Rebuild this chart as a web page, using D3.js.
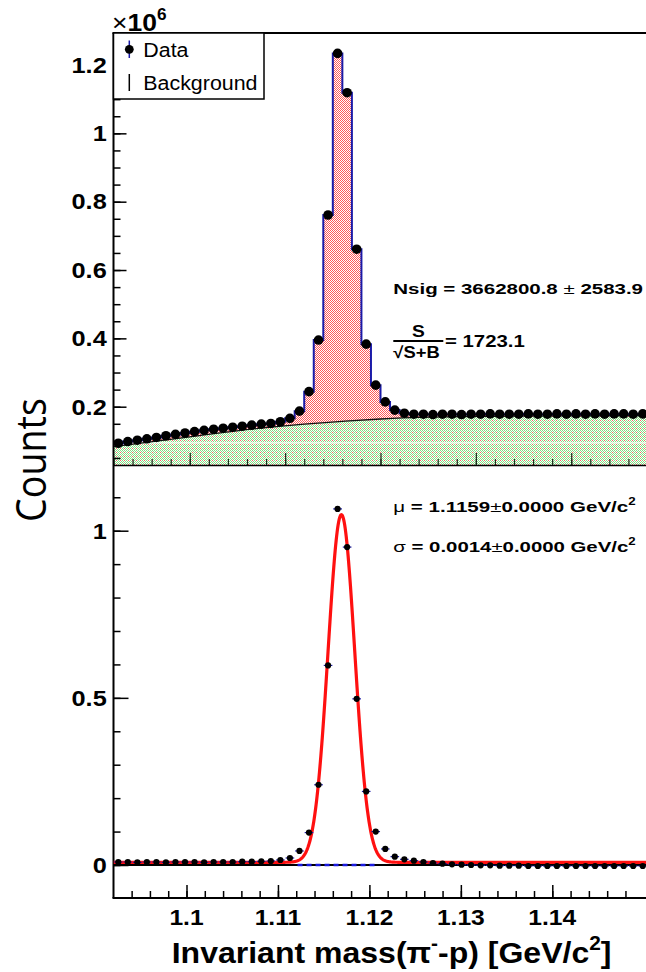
<!DOCTYPE html>
<html>
<head>
<meta charset="utf-8">
<script src="https://cdn.jsdelivr.net/npm/d3@7"></script>
<style>
  html, body { margin: 0; padding: 0; background: #fff; }
  svg { display: block; }
</style>
</head>
<body>
<svg id="chart" width="646" height="972"></svg>
<script>
// ---- histogram binning of the pi- p invariant mass ----
const massMin = 1.092, massMax = 1.148, binCount = 56;

// upper panel: entries per bin (x10^6)
const dataCounts = [
  0.093, 0.098, 0.102, 0.106, 0.110, 0.115, 0.119, 0.123, 0.127, 0.131,
  0.134, 0.137, 0.140, 0.143, 0.146, 0.149, 0.151, 0.156, 0.166, 0.187,
  0.244, 0.395, 0.761, 1.234, 1.119, 0.661, 0.383, 0.263, 0.214, 0.190,
  0.181, 0.178, 0.178, 0.177, 0.178, 0.178, 0.177, 0.178, 0.178, 0.179,
  0.178, 0.178, 0.178, 0.179, 0.178, 0.178, 0.179, 0.178, 0.179, 0.178,
  0.179, 0.178, 0.179, 0.179, 0.178, 0.179
];

// fitted background shape, sampled along the mass axis (x10^6)
const bgMass   = [1.092, 1.100, 1.108, 1.112, 1.116, 1.120, 1.124, 1.132, 1.140, 1.148];
const bgCounts = [0.083, 0.112, 0.139, 0.149, 0.157, 0.164, 0.169, 0.172, 0.173, 0.174];

// lower panel: background-subtracted entries per bin (x10^6)
const subCounts = [
  0.009, 0.009, 0.008, 0.009, 0.009, 0.008, 0.009, 0.009, 0.009, 0.008,
  0.009, 0.009, 0.009, 0.010, 0.010, 0.011, 0.012, 0.015, 0.021, 0.042,
  0.097, 0.240, 0.597, 1.065, 0.951, 0.497, 0.220, 0.100, 0.048, 0.025,
  0.017, 0.013, 0.009, 0.006, 0.004, 0.002, 0.001, 0.000, -0.001, -0.001,
  -0.002, -0.002, -0.002, -0.003, -0.003, -0.003, -0.003, -0.003, -0.003, -0.003,
  -0.003, -0.003, -0.003, -0.003, -0.003, -0.003
];

// Gaussian fit of the signal peak
const fitMu = 1.1159, fitSigma = 0.0014, fitAmp = 1.04, fitOffset = 0.008;
// residual background under the peak window
const residMass = [1.1113, 1.1196];
const residCounts = [0.0, 0.0];

// axis ticks
const topYTicks = [0.2, 0.4, 0.6, 0.8, 1.0, 1.2];
const topYLabels = ["0.2", "0.4", "0.6", "0.8", "1", "1.2"];
const botYTicks = [0, 0.5, 1];
const botYLabels = ["0", "0.5", "1"];
const xTicks = [1.10, 1.11, 1.12, 1.13, 1.14];
const xLabels = ["1.1", "1.11", "1.12", "1.13", "1.14"];

// ---- layout ----
const plotLeft = 113.5, plotRight = 647.5;
const topY0 = 33, topY1 = 465, botY0 = 465, botY1 = 898;
const ROOT_FONT = "'Liberation Sans', Arial, Helvetica, sans-serif";

const svg = d3.select("#chart");

const xData = d3.scaleLinear().domain([massMin, massMax]).range([plotLeft, plotRight]);
const xAxisScale = d3.scaleLinear().domain([1.10, 1.14]).range([186.5, 552.3]);
const yTop = d3.scaleLinear().domain([0.2, 1.2]).range([406.7, 65]);
const yBot = d3.scaleLinear().domain([0, 1]).range([865, 530.7]);

const binWidth = (massMax - massMin) / binCount;
const bins = dataCounts.map((c, i) => ({
  lo: massMin + i * binWidth,
  mid: massMin + (i + 0.5) * binWidth,
  top: c,
  sub: subCounts[i]
}));

// ---- defs: fill patterns and clips ----
const defs = svg.append("defs");

function cellPattern(id, size, cells) {
  const p = defs.append("pattern").attr("id", id)
    .attr("patternUnits", "userSpaceOnUse").attr("width", size).attr("height", size);
  p.append("rect").attr("width", size).attr("height", size).attr("fill", "#ffffff");
  cells.forEach(c => p.append("rect")
    .attr("x", c[0]).attr("y", c[1]).attr("width", 1).attr("height", 1)
    .attr("fill", c[2]).attr("shape-rendering", "crispEdges"));
}

// red checker for the data histogram
cellPattern("fillRed", 2, [[0, 0, "#ff5858"], [1, 1, "#ff5858"]]);

// green checker with sparse red points for the background band
const greenCells = [];
for (let gx = 0; gx < 4; gx++) {
  for (let gy = 0; gy < 4; gy++) {
    if ((gx + gy) % 2 === 0) {
      greenCells.push([gx, gy, (gx === 0 && gy === 0) ? "#ff6a6a" : "#86dc82"]);
    }
  }
}
cellPattern("fillGreen", 4, greenCells);

defs.append("clipPath").attr("id", "clipTop").append("rect")
  .attr("x", plotLeft).attr("y", topY0).attr("width", plotRight - plotLeft).attr("height", topY1 - topY0);
defs.append("clipPath").attr("id", "clipBot").append("rect")
  .attr("x", plotLeft).attr("y", botY0).attr("width", plotRight - plotLeft).attr("height", botY1 - botY0);

// ---- text helper: ROOT-style text with optional superscripts and width fit ----
function rootText(parent, x, y, parts, opts) {
  const size = opts.size;
  const t = parent.append("text")
    .attr("font-family", opts.family || ROOT_FONT)
    .attr("font-size", size)
    .attr("font-weight", opts.weight || "bold")
    .attr("text-anchor", opts.anchor || "start")
    .attr("fill", "#000");
  let raised = false;
  parts.forEach(p => {
    const part = typeof p === "string" ? { t: p } : p;
    const ts = t.append("tspan").text(part.t);
    if (part.weight) ts.attr("font-weight", part.weight);
    if (part.sup) {
      ts.attr("font-size", size * 0.65).attr("dy", -size * 0.42);
      raised = true;
    } else if (raised) {
      ts.attr("dy", size * 0.42);
      raised = false;
    }
  });
  let sx = opts.sx || 1;
  if (opts.width) sx = opts.width / t.node().getBBox().width;
  const rot = opts.rotate ? ` rotate(${opts.rotate})` : "";
  t.attr("transform", `translate(${x},${y})${rot} scale(${sx},1)`);
  return t;
}

// ================= upper panel =================
const topG = svg.append("g").attr("clip-path", "url(#clipTop)");

const stepPts = bins.map(b => [b.lo, b.top]).concat([[massMax, bins[bins.length - 1].top]]);

// data histogram fill
topG.append("path")
  .datum(stepPts)
  .attr("fill", "url(#fillRed)")
  .attr("d", d3.area().curve(d3.curveStepAfter)
    .x(d => xData(d[0])).y0(topY1).y1(d => yTop(d[1])));

// background fill
const bgPts = bgMass.map((m, i) => [m, bgCounts[i]]);
topG.append("path")
  .datum(bgPts)
  .attr("fill", "url(#fillGreen)")
  .attr("d", d3.area().curve(d3.curveMonotoneX)
    .x(d => xData(d[0])).y0(topY1).y1(d => yTop(d[1])));

// light seam across the shaded band
topG.append("line")
  .attr("x1", plotLeft).attr("x2", plotRight)
  .attr("y1", yTop(0.094)).attr("y2", yTop(0.094))
  .attr("stroke", "#ffffff").attr("stroke-width", 1.3).attr("opacity", 0.85);

// background curve
topG.append("path")
  .datum(bgPts)
  .attr("fill", "none").attr("stroke", "#111").attr("stroke-width", 1.3)
  .attr("d", d3.line().curve(d3.curveMonotoneX).x(d => xData(d[0])).y(d => yTop(d[1])));

// histogram outline
topG.append("path")
  .datum(stepPts)
  .attr("fill", "none").attr("stroke", "#1a1aa8").attr("stroke-width", 2)
  .attr("d", d3.line().curve(d3.curveStepAfter).x(d => xData(d[0])).y(d => yTop(d[1])));

// inner x ticks of the upper frame
const topMinorX = d3.range(0, 29).map(i => massMin + i * 0.002);
svg.append("g").attr("transform", `translate(0,${topY1})`)
  .call(d3.axisTop(xData).tickValues(topMinorX).tickSize(6).tickFormat(""))
  .call(g => g.select(".domain").remove())
  .call(g => g.selectAll("line").attr("stroke", "#1b2a1b").attr("stroke-width", 1.2));
svg.append("g").attr("transform", `translate(0,${topY1})`)
  .call(d3.axisTop(xData).tickValues(xTicks).tickSize(12).tickFormat(""))
  .call(g => g.select(".domain").remove())
  .call(g => g.selectAll("line").attr("stroke", "#1b2a1b").attr("stroke-width", 1.2));

// data points
topG.append("g").selectAll("circle")
  .data(bins)
  .join("circle")
  .attr("cx", d => xData(d.mid))
  .attr("cy", d => yTop(d.top))
  .attr("r", 4.8)
  .attr("fill", "#000");

// frame lines
svg.append("line").attr("x1", plotLeft - 1).attr("x2", 646).attr("y1", topY0).attr("y2", topY0)
  .attr("stroke", "#000").attr("stroke-width", 2);
svg.append("line").attr("x1", plotLeft).attr("x2", plotLeft).attr("y1", topY0).attr("y2", botY1)
  .attr("stroke", "#000").attr("stroke-width", 2);
svg.append("line").attr("x1", plotLeft).attr("x2", 646).attr("y1", topY1 + 0.5).attr("y2", topY1 + 0.5)
  .attr("stroke", "#000").attr("stroke-width", 1.5);

// y axis ticks, upper panel
const topMinorY = d3.range(1, 26).map(i => i * 0.05);
svg.append("g").attr("transform", `translate(${plotLeft},0)`)
  .call(d3.axisRight(yTop).tickValues(topMinorY).tickSize(7).tickFormat(""))
  .call(g => g.select(".domain").remove())
  .call(g => g.selectAll("line").attr("stroke", "#000").attr("stroke-width", 1.5));
svg.append("g").attr("transform", `translate(${plotLeft},0)`)
  .call(d3.axisRight(yTop).tickValues(topYTicks).tickSize(13).tickFormat(""))
  .call(g => g.select(".domain").remove())
  .call(g => g.selectAll("line").attr("stroke", "#000").attr("stroke-width", 1.5));

topYTicks.forEach((v, i) => {
  rootText(svg, 106.7, yTop(v) + 7.8, [topYLabels[i]], { size: 22, anchor: "end", sx: 1.15 });
});

// x10^6 multiplier
rootText(svg, 112, 30.5, [{ t: "×", weight: "normal" }, "10", { t: "6", sup: true }], { size: 24.5, sx: 1.08 });

// legend
const leg = svg.append("g");
leg.append("rect").attr("x", plotLeft).attr("y", topY0).attr("width", 150.5).attr("height", 66)
  .attr("fill", "#fff").attr("stroke", "#000").attr("stroke-width", 1.5);
leg.append("line").attr("x1", 129.3).attr("x2", 129.3).attr("y1", 40.5).attr("y2", 58)
  .attr("stroke", "#1a1aa8").attr("stroke-width", 1.5);
leg.append("circle").attr("cx", 129.3).attr("cy", 49.3).attr("r", 4.4).attr("fill", "#000");
leg.append("line").attr("x1", 129.3).attr("x2", 129.3).attr("y1", 74).attr("y2", 91)
  .attr("stroke", "#000").attr("stroke-width", 1.5);
rootText(leg, 143.3, 56.7, ["Data"], { size: 20, weight: "normal", sx: 1.07 });
rootText(leg, 143.3, 89.5, ["Background"], { size: 20, weight: "normal", sx: 1.07 });

// fit summary, upper panel
rootText(svg, 393.3, 294, ["Nsig = 3662800.8  ", { t: "±", weight: "normal" }, " 2583.9"], { size: 15, width: 250 });
rootText(svg, 418.3, 336.7, ["S"], { size: 16, anchor: "middle", sx: 1.2 });
svg.append("line").attr("x1", 393.3).attr("x2", 443.3).attr("y1", 341).attr("y2", 341)
  .attr("stroke", "#000").attr("stroke-width", 2);
rootText(svg, 393.3, 357.5, ["√S+B"], { size: 16, sx: 1.15 });
rootText(svg, 445, 347.3, ["= 1723.1"], { size: 16, width: 80 });

// ================= lower panel =================
const botG = svg.append("g").attr("clip-path", "url(#clipBot)");

// zero line
botG.append("line")
  .attr("x1", plotLeft).attr("x2", plotRight).attr("y1", yBot(0)).attr("y2", yBot(0))
  .attr("stroke", "#000").attr("stroke-width", 2.2);

// residual background under the peak
botG.append("path")
  .datum(residMass.map((m, i) => [m, residCounts[i]]))
  .attr("fill", "none").attr("stroke", "#1a1ae0").attr("stroke-width", 2.5)
  .attr("stroke-dasharray", "5,4")
  .attr("d", d3.line().x(d => xData(d[0])).y(d => yBot(d[1])));

// Gaussian fit curve
const fitMass = d3.range(0, 1121).map(i => massMin + i * 0.00005);
botG.append("path")
  .datum(fitMass)
  .attr("fill", "none").attr("stroke", "#ff1010").attr("stroke-width", 3.2)
  .attr("stroke-linejoin", "round")
  .attr("d", d3.line()
    .x(m => xData(m))
    .y(m => yBot(fitOffset + fitAmp * Math.exp(-0.5 * Math.pow((m - fitMu) / fitSigma, 2)))));

// subtracted data points with bin-width bars
const botPts = botG.append("g");
botPts.selectAll("line")
  .data(bins)
  .join("line")
  .attr("x1", d => xData(d.mid) - 4.3).attr("x2", d => xData(d.mid) + 4.3)
  .attr("y1", d => yBot(d.sub)).attr("y2", d => yBot(d.sub))
  .attr("stroke", "#1a1aa8").attr("stroke-width", 1.2);
botPts.selectAll("circle")
  .data(bins)
  .join("circle")
  .attr("cx", d => xData(d.mid))
  .attr("cy", d => yBot(d.sub))
  .attr("r", 3.1)
  .attr("fill", "#000");

// y axis ticks, lower panel
const botMinorY = d3.range(0, 12).map(i => i * 0.1);
svg.append("g").attr("transform", `translate(${plotLeft},0)`)
  .call(d3.axisRight(yBot).tickValues(botMinorY).tickSize(7).tickFormat(""))
  .call(g => g.select(".domain").remove())
  .call(g => g.selectAll("line").attr("stroke", "#000").attr("stroke-width", 1.5));
svg.append("g").attr("transform", `translate(${plotLeft},0)`)
  .call(d3.axisRight(yBot).tickValues(botYTicks).tickSize(15).tickFormat(""))
  .call(g => g.select(".domain").remove())
  .call(g => g.selectAll("line").attr("stroke", "#000").attr("stroke-width", 1.5));

botYTicks.forEach((v, i) => {
  rootText(svg, 106.7, yBot(v) + 7.8, [botYLabels[i]], { size: 22, anchor: "end", sx: 1.15 });
});

// x axis along the bottom
svg.append("line").attr("x1", plotLeft - 1).attr("x2", 646).attr("y1", botY1).attr("y2", botY1)
  .attr("stroke", "#000").attr("stroke-width", 2);
const botMinorX = d3.range(0, 28).map(i => 1.094 + i * 0.002);
svg.append("g").attr("transform", `translate(0,${botY1})`)
  .call(d3.axisTop(xAxisScale).tickValues(botMinorX).tickSize(7).tickFormat(""))
  .call(g => g.select(".domain").remove())
  .call(g => g.selectAll("line").attr("stroke", "#000").attr("stroke-width", 1.5));
svg.append("g").attr("transform", `translate(0,${botY1})`)
  .call(d3.axisTop(xAxisScale).tickValues(xTicks).tickSize(13).tickFormat(""))
  .call(g => g.select(".domain").remove())
  .call(g => g.selectAll("line").attr("stroke", "#000").attr("stroke-width", 1.5));

xTicks.forEach((v, i) => {
  rootText(svg, xAxisScale(v), 925, [xLabels[i]], { size: 22, anchor: "middle", sx: 1.12 });
});

// fit parameters, lower panel
rootText(svg, 393.3, 511.7,
  [{ t: "μ", weight: "normal" }, " = 1.1159", { t: "±", weight: "normal" }, "0.0000 GeV/c", { t: "2", sup: true }],
  { size: 15.5, width: 243 });
rootText(svg, 393.3, 551.7,
  [{ t: "σ", weight: "normal" }, " = 0.0014", { t: "±", weight: "normal" }, "0.0000 GeV/c", { t: "2", sup: true }],
  { size: 15.5, width: 243 });

// axis titles
rootText(svg, 171.7, 963,
  ["Invariant mass(π", { t: "-", sup: true }, "-p) [GeV/c", { t: "2", sup: true }, "]"],
  { size: 30, width: 440 });

rootText(svg, 46, 460, ["Counts"],
  { size: 42, weight: "normal", family: "'Open Sans', 'Noto Sans', sans-serif", anchor: "middle", rotate: -90, width: 124 });
</script>
</body>
</html>
